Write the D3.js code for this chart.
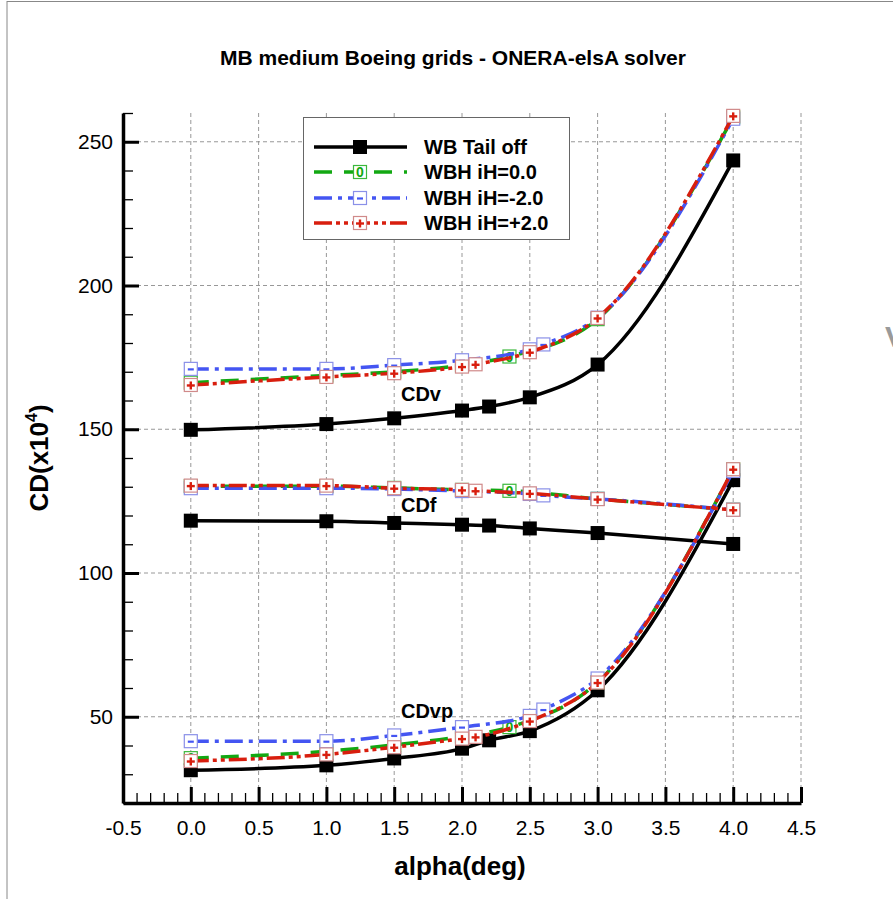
<!DOCTYPE html>
<html><head><meta charset="utf-8">
<script src="https://cdn.jsdelivr.net/npm/d3@7"></script>
<style>
html,body{margin:0;padding:0;background:#fff;}
text{font-family:"Liberation Sans",Arial,Helvetica,sans-serif;}
</style></head>
<body>
<svg id="chart" width="893" height="899"></svg>
<script>
// ---------------- DATA ----------------
const titleText = "MB medium Boeing grids - ONERA-elsA solver";
const xLabel = "alpha(deg)";
const xTicks = [-0.5,0,0.5,1,1.5,2,2.5,3,3.5,4,4.5];
const yTicks = [50,100,150,200,250];
const seriesNames = ["WB Tail off","WBH iH=0.0","WBH iH=-2.0","WBH iH=+2.0"];

// WB tail off
const alphaTail = [0,1,1.5,2,2.2,2.5,3,4];
const cdvTail  = [149.8,151.8,153.8,156.5,157.9,161.1,172.5,243.5];
const cdfTail  = [118.2,118.0,117.4,116.8,116.5,115.5,113.9,110.1];
const cdvpTail = [31.4,33.1,35.5,38.9,41.8,45.0,59.2,132.3];

// WBH iH = 0.0
const alphaH0 = [0,1,1.5,2,2.35,3,4];
const cdvH0  = [166.2,168.7,170.0,172.3,175.3,188.3,258.5];
const cdfH0  = [130.2,130.2,129.6,128.9,128.6,125.8,122.0];
const cdvpH0 = [35.6,38.0,40.2,43.2,46.4,62.0,136.0];

// WBH iH = -2.0
const alphaHm2 = [0,1,1.5,2,2.5,2.6,3,4];
const cdvHm2  = [171.0,171.0,172.3,174.0,177.8,179.5,188.8,258.0];
const cdfHm2  = [129.5,129.5,129.2,128.5,127.5,127.0,125.8,122.0];
const cdvpHm2 = [41.5,41.5,43.5,46.4,50.3,52.5,63.3,135.5];

// WBH iH = +2.0
const alphaHp2 = [0,1,1.5,2,2.1,2.5,3,4];
const cdvHp2  = [165.4,168.2,169.5,171.8,172.6,176.8,188.7,259.0];
const cdfHp2  = [130.4,130.4,129.5,128.9,128.6,127.7,125.7,122.0];
const cdvpHp2 = [34.6,36.9,39.4,42.4,43.0,48.5,61.9,136.1];

const curveLabels = ["CDv","CDf","CDvp"];
const curveLabelPos = [[1.55,159.8],[1.55,121.2],[1.55,49.4]];

// ---------------- STYLE ----------------
const styles = [
  {color:"#000000", dash:null, marker:"filled", mcolor:"#000"},
  {color:"#12a812", dash:"18,12", marker:"zero", mcolor:"#3cb83c"},
  {color:"#4455f2", dash:"18,6,4,6", marker:"minus", mcolor:"#8a90e8"},
  {color:"#d81e0e", dash:"18,4,4,4,4,4", marker:"plus", mcolor:"#d08a8a"}
];
const series = [
  {a:alphaTail, comps:[cdvTail,cdfTail,cdvpTail]},
  {a:alphaH0, comps:[cdvH0,cdfH0,cdvpH0]},
  {a:alphaHm2, comps:[cdvHm2,cdfHm2,cdvpHm2]},
  {a:alphaHp2, comps:[cdvHp2,cdfHp2,cdvpHp2]}
];

const svg = d3.select("#chart");
const x = d3.scaleLinear().domain([-0.5,4.5]).range([123,801]);
const y = d3.scaleLinear().domain([20,260]).range([803,113]);

// page frame
svg.append("line").attr("x1",7).attr("x2",7).attr("y1",1).attr("y2",899).attr("stroke","#888").attr("stroke-width",1);
svg.append("line").attr("x1",7).attr("x2",893).attr("y1",1.5).attr("y2",1.5).attr("stroke","#888").attr("stroke-width",1);
svg.append("text").attr("x",885).attr("y",347).attr("font-size",30).attr("font-weight","bold").attr("fill","#9a9a9a").text("V");

// title
svg.append("text").attr("x",453).attr("y",65).attr("text-anchor","middle")
  .attr("font-size",21).attr("font-weight","bold").text(titleText);

// grid
const grid = svg.append("g");
xTicks.filter(d=>d>-0.5).forEach(d=>{
  grid.append("line").attr("x1",x(d)).attr("x2",x(d)).attr("y1",y(20)).attr("y2",y(260))
    .attr("stroke","#8c8c8c").attr("stroke-width",0.9).attr("stroke-dasharray","4,3");
});
yTicks.forEach(d=>{
  grid.append("line").attr("x1",x(-0.5)).attr("x2",x(4.5)).attr("y1",y(d)).attr("y2",y(d))
    .attr("stroke","#8c8c8c").attr("stroke-width",0.9).attr("stroke-dasharray","4,3");
});

// axes
const xMinor = d3.range(-5,46).map(i=>i/10).filter(v=>Math.abs(v*2-Math.round(v*2))>1e-6);
const yMinor = d3.range(20,261,10).filter(v=>v%50!==0);

const gxm = svg.append("g").attr("transform","translate(0,803)")
  .call(d3.axisBottom(x).tickValues(xMinor).tickSize(-10).tickSizeOuter(0).tickFormat(""));
const gx = svg.append("g").attr("transform","translate(0,803)")
  .call(d3.axisBottom(x).tickValues(xTicks).tickSize(-16).tickSizeOuter(0).tickPadding(17).tickFormat(d=>d.toFixed(1)));
const gym = svg.append("g").attr("transform","translate(123,0)")
  .call(d3.axisLeft(y).tickValues(yMinor).tickSize(-10).tickSizeOuter(0).tickFormat(""));
const gy = svg.append("g").attr("transform","translate(123,0)")
  .call(d3.axisLeft(y).tickValues(yTicks).tickSize(-16).tickSizeOuter(0).tickPadding(10));
[gxm,gym].forEach(g=>{g.selectAll(".tick line").attr("stroke-width",1.3);g.select(".domain").remove();});
[gx,gy].forEach(g=>{
  g.selectAll(".tick line").attr("stroke-width",3);
  g.select(".domain").attr("stroke-width",3.5);
  g.selectAll(".tick text").attr("font-size",21).attr("fill","#000").style("font-family","'Liberation Sans',Arial,sans-serif");
});

// axis titles
svg.append("text").attr("x",460).attr("y",875).attr("text-anchor","middle")
  .attr("font-size",26).attr("font-weight","bold").text(xLabel);
const yl = svg.append("text").attr("transform","translate(48,458) rotate(-90)").attr("text-anchor","middle")
  .attr("font-size",26).attr("font-weight","bold");
yl.append("tspan").text("CD(x10");
yl.append("tspan").attr("font-size",16).attr("dy",-11).text("4");
yl.append("tspan").attr("dy",11).text(")");

// curves
const line = d3.line().curve(d3.curveMonotoneX).x(d=>x(d[0])).y(d=>y(d[1]));
function drawMarker(g, cx, cy, st){
  const s = 13;
  if(st.marker==="filled"){
    g.append("rect").attr("x",cx-7).attr("y",cy-7).attr("width",14).attr("height",14).attr("fill","#000");
    return;
  }
  g.append("rect").attr("x",cx-s/2).attr("y",cy-s/2).attr("width",s).attr("height",s)
    .attr("fill","#fff").attr("stroke",st.mcolor).attr("stroke-width",1.2);
  if(st.marker==="plus"){
    g.append("line").attr("x1",cx-4).attr("x2",cx+4).attr("y1",cy+0.5).attr("y2",cy+0.5).attr("stroke",st.color).attr("stroke-width",2.4);
    g.append("line").attr("x1",cx).attr("x2",cx).attr("y1",cy-3.5).attr("y2",cy+4.5).attr("stroke",st.color).attr("stroke-width",2.4);
  } else if(st.marker==="minus"){
    g.append("line").attr("x1",cx-3).attr("x2",cx+3).attr("y1",cy+0.5).attr("y2",cy+0.5).attr("stroke",st.color).attr("stroke-width",2.2);
  } else if(st.marker==="zero"){
    g.append("text").attr("x",cx).attr("y",cy+5).attr("text-anchor","middle").attr("font-size",14)
      .attr("font-weight","bold").attr("fill",st.color).text("0");
  }
}
series.forEach((sr,i)=>{
  const st = styles[i];
  const g = svg.append("g");
  sr.comps.forEach(vals=>{
    const pts = sr.a.map((a,k)=>[a,vals[k]]);
    g.append("path").attr("d",line(pts)).attr("fill","none").attr("stroke",st.color)
      .attr("stroke-width",3.5).attr("stroke-dasharray",st.dash);
  });
  sr.comps.forEach(vals=>{
    sr.a.forEach((a,k)=>drawMarker(g,x(a),y(vals[k]),st));
  });
});

// curve labels
curveLabels.forEach((t,i)=>{
  svg.append("text").attr("x",x(curveLabelPos[i][0])).attr("y",y(curveLabelPos[i][1]))
    .attr("font-size",20).attr("font-weight","bold").text(t);
});

// legend
const lg = svg.append("g");
lg.append("rect").attr("x",303.5).attr("y",117.5).attr("width",266).attr("height",122)
  .attr("fill","#fff").attr("stroke","#666").attr("stroke-width",1);
const legY = [147,172,198,223];
seriesNames.forEach((n,i)=>{
  const st = styles[i];
  lg.append("line").attr("x1",314).attr("x2",407).attr("y1",legY[i]).attr("y2",legY[i])
    .attr("stroke",st.color).attr("stroke-width",3.5).attr("stroke-dasharray",st.dash);
  drawMarker(lg,360,legY[i],st);
  lg.append("text").attr("x",424).attr("y",legY[i]+7).attr("font-size",20).attr("font-weight","bold").text(n);
});
</script>
</body></html>
